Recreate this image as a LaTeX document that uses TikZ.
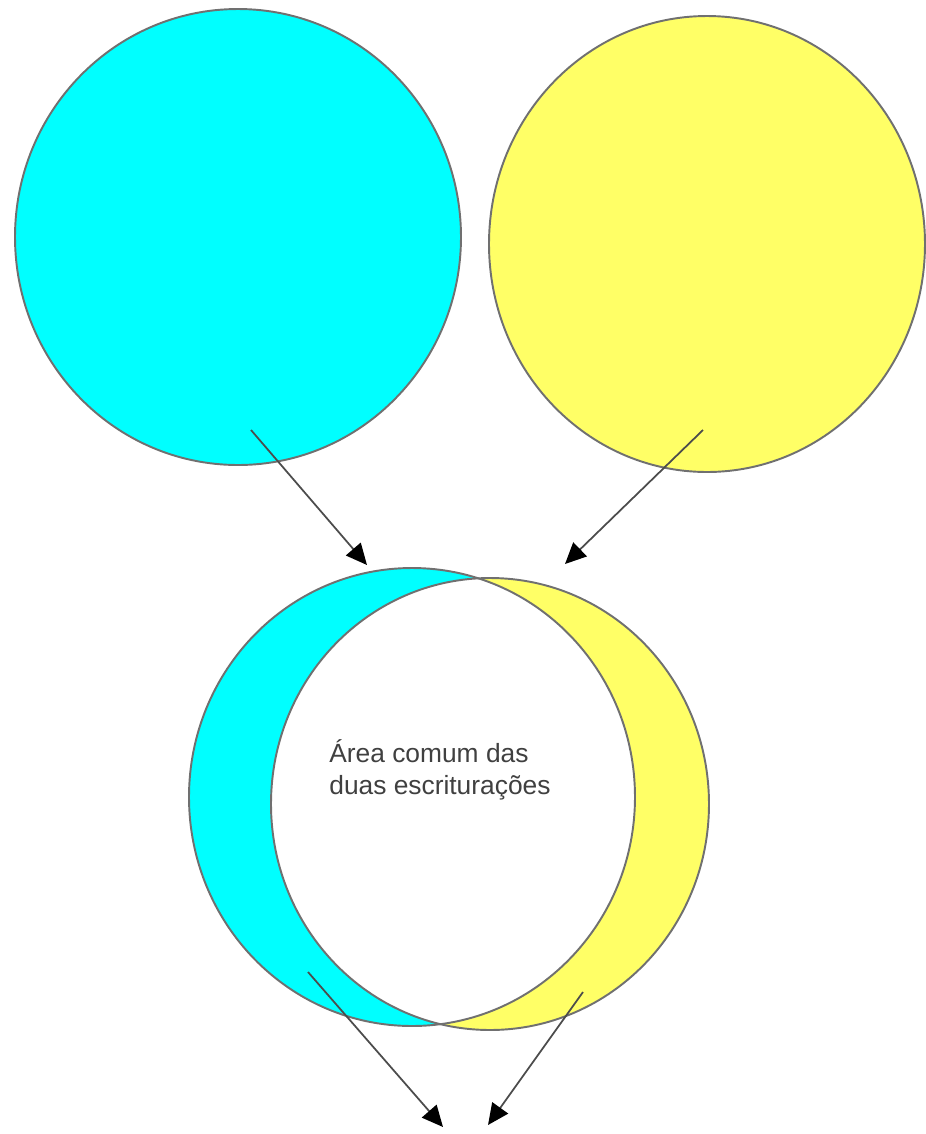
\documentclass[tikz,border=0pt]{standalone}
\usepackage{fontspec}
\setmainfont{Liberation Sans}
\usetikzlibrary{arrows.meta}
\definecolor{cyanfill}{RGB}{0,255,255}
\definecolor{yellowfill}{RGB}{255,255,102}
\definecolor{rimgray}{RGB}{112,112,112}

\begin{document}
\begin{tikzpicture}[
    x=0.02cm, y=-0.02cm,
    rim/.style={draw=rimgray, line width=1.1pt},
    arr/.style={-{Triangle[length=12pt, width=11pt, color=black]}, draw=black!70, line width=1pt},
    txt/.style={font=\fontsize{15}{18.2}\selectfont, text=black!75, align=left, inner sep=0pt}
]
\useasboundingbox (0,0) rectangle (926,1134);
% The two separate sets, side by side
\coordinate (C) at (238,237);
\coordinate (Y) at (707,244);
\filldraw[rim, fill=cyanfill]   (C) ellipse [x radius=223, y radius=228];
\filldraw[rim, fill=yellowfill] (Y) ellipse [x radius=218, y radius=228];
% The two sets laid over each other;
% the common part is left white
\coordinate (Cb) at (412,797);
\coordinate (Yb) at (490,804);
\fill[cyanfill]   (Cb) ellipse [x radius=223, y radius=229];
\fill[yellowfill] (Yb) ellipse [x radius=219, y radius=226];
\begin{scope}
  \clip (Cb) ellipse [x radius=223, y radius=229];
  \fill[white] (Yb) ellipse [x radius=219, y radius=226];
\end{scope}
\draw[rim] (Cb) ellipse [x radius=223, y radius=229];
\draw[rim] (Yb) ellipse [x radius=219, y radius=226];
\node[txt, anchor=west] (common) at (329,770) {Área comum das\\duas escriturações};
% Arrow ends
\coordinate (c1) at (251,430);
\coordinate (c2) at (367,565);
\coordinate (y1) at (703,430);
\coordinate (y2) at (565,564);
\coordinate (c3) at (308,972);
\coordinate (c4) at (443,1127);
\coordinate (y3) at (583,992);
\coordinate (y4) at (488,1125);
\draw[arr] (c1) -- (c2);
\draw[arr] (y1) -- (y2);
\draw[arr] (c3) -- (c4);
\draw[arr] (y3) -- (y4);
\end{tikzpicture}
\end{document}
